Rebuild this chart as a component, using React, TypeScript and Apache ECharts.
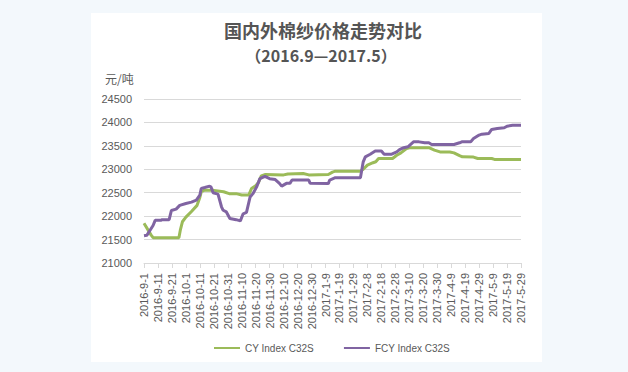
import React, { useEffect, useRef } from "react";
import * as echarts from "echarts";

const dateLabels = [
  "2016-9-1", "2016-9-11", "2016-9-21", "2016-10-1", "2016-10-11", "2016-10-21",
  "2016-10-31", "2016-11-10", "2016-11-20", "2016-11-30", "2016-12-10", "2016-12-20",
  "2016-12-30", "2017-1-9", "2017-1-19", "2017-1-29", "2017-2-8", "2017-2-18",
  "2017-2-28", "2017-3-10", "2017-3-20", "2017-3-30", "2017-4-9", "2017-4-19",
  "2017-4-29", "2017-5-9", "2017-5-19", "2017-5-29",
];

// [days since 2016-9-1, price 元/吨]
const cyPoints: [number, number][] = [
  [0, 21850], [5, 21600], [6.5, 21540], [25, 21540], [26, 21700], [27.5, 21880],
  [30, 21980], [34, 22100], [38, 22230], [40, 22400], [41, 22520], [43, 22550],
  [50, 22550], [57, 22520], [61, 22480], [66, 22480], [70, 22450], [75, 22450],
  [77, 22590], [80, 22650], [82, 22720], [84, 22860], [87, 22890], [100, 22880],
  [103, 22900], [114, 22910], [118, 22880], [132, 22890], [135, 22940], [137, 22960],
  [155, 22960], [157, 23000], [160, 23090], [164, 23140], [166, 23160], [168, 23230],
  [178, 23230], [181, 23300], [184, 23350], [188, 23440], [190, 23460], [204, 23460],
  [208, 23410], [212, 23370], [219, 23370], [222, 23350], [226, 23290], [228, 23265],
  [236, 23260], [239, 23230], [249, 23230], [251, 23210], [270, 23210],
];

const fcyPoints: [number, number][] = [
  [0, 21580], [2, 21590], [6.5, 21800], [8, 21910], [12, 21910], [13, 21925],
  [18, 21925], [19.6, 22120], [23, 22150], [25.6, 22230], [30, 22270], [34, 22300],
  [37.5, 22340], [40, 22450], [41, 22590], [43.5, 22610], [47, 22640], [48, 22620],
  [49.5, 22500], [53, 22470], [55.5, 22200], [56.7, 22125], [59, 22090], [61.5, 21950],
  [66, 21925], [69, 21900], [71, 22050], [73.4, 22080], [76, 22410], [78, 22480],
  [80.6, 22620], [83, 22800], [86.6, 22850], [90, 22800], [94, 22780], [97, 22700],
  [98.6, 22640], [102, 22700], [104.5, 22700], [106, 22770], [118, 22770], [119, 22700],
  [132, 22695], [133, 22770], [137, 22820], [155, 22820], [157, 23160], [158.5, 23265],
  [162, 23320], [165.6, 23390], [170, 23390], [172, 23320], [177, 23320], [181, 23370],
  [183, 23420], [186, 23460], [189, 23480], [193, 23585], [197, 23585], [201, 23565],
  [204, 23565], [206, 23530], [222, 23530], [226, 23565], [228, 23590], [234, 23590],
  [236, 23655], [240, 23730], [242, 23750], [247, 23765], [249, 23850], [253, 23870],
  [258, 23885], [260, 23920], [264, 23940], [270, 23940],
];

const seriesNames = ["CY Index C32S", "FCY Index C32S"];
const titleText = "国内外棉纱价格走势对比";
const subtitleText = "（2016.9—2017.5）";
const unitText = "元/吨";

export default function App() {
  const ref = useRef<HTMLDivElement>(null);

  useEffect(() => {
    if (!ref.current) return;
    const chart = echarts.init(ref.current, null, { renderer: "svg" });
    const textColor = "#595959";
    chart.setOption({
      animation: false,
      backgroundColor: "#ffffff",
      graphic: [
        {
          type: "text",
          x: 232,
          y: 17,
          style: {
            text: titleText,
            textAlign: "center",
            textVerticalAlign: "middle",
            font: "bold 18px 'Noto Sans CJK SC'",
            fill: "#555555",
          },
        },
        {
          type: "text",
          x: 230,
          y: 42,
          style: {
            text: subtitleText,
            textAlign: "center",
            textVerticalAlign: "middle",
            font: "bold 16px 'Noto Sans CJK SC'",
            fill: "#555555",
          },
        },
        {
          type: "text",
          x: 14,
          y: 65,
          style: {
            text: unitText,
            textAlign: "left",
            textVerticalAlign: "middle",
            font: "12px 'Noto Sans CJK SC'",
            fill: textColor,
          },
        },
      ],
      grid: { left: 53, right: 21, top: 86, bottom: 99 },
      legend: {
        left: 118,
        top: 325,
        icon: "rect",
        itemWidth: 26,
        itemHeight: 2,
        itemGap: 30,
        textStyle: { fontSize: 10, color: textColor, fontFamily: "Liberation Sans" },
        data: seriesNames,
      },
      xAxis: {
        type: "value",
        min: 0,
        max: 270,
        interval: 10,
        axisLine: { show: true, lineStyle: { color: "#d9d9d9" } },
        axisTick: { show: true, length: 5, lineStyle: { color: "#d9d9d9" } },
        splitLine: { show: false },
        axisLabel: {
          rotate: 90,
          margin: 10,
          fontSize: 11,
          color: textColor,
          fontFamily: "Liberation Sans",
          showMinLabel: true,
          showMaxLabel: true,
          formatter: (v: number) => dateLabels[Math.round(v / 10)] ?? "",
        },
      },
      yAxis: {
        type: "value",
        min: 21000,
        max: 24500,
        interval: 500,
        axisLine: { show: false },
        axisTick: { show: false },
        splitLine: { lineStyle: { color: "#d9d9d9" } },
        axisLabel: {
          fontSize: 11,
          color: textColor,
          margin: 12,
          fontFamily: "Liberation Sans",
          formatter: (v: number) => String(v),
        },
      },
      series: [
        {
          name: seriesNames[0],
          type: "line",
          data: cyPoints,
          showSymbol: false,
          symbol: "none",
          lineStyle: { width: 3, color: "#9bbb59" },
          itemStyle: { color: "#9bbb59" },
        },
        {
          name: seriesNames[1],
          type: "line",
          data: fcyPoints,
          showSymbol: false,
          symbol: "none",
          lineStyle: { width: 3, color: "#8064a2" },
          itemStyle: { color: "#8064a2" },
        },
      ],
    });
    return () => chart.dispose();
  }, []);

  return (
    <div
      style={{
        position: "absolute",
        left: 0,
        top: 0,
        width: 628,
        height: 372,
        background: "#f3f8fc",
        overflow: "hidden",
      }}
    >
      <div
        ref={ref}
        style={{
          position: "absolute",
          left: 91,
          top: 13,
          width: 451,
          height: 349,
          background: "#ffffff",
        }}
      />
    </div>
  );
}
